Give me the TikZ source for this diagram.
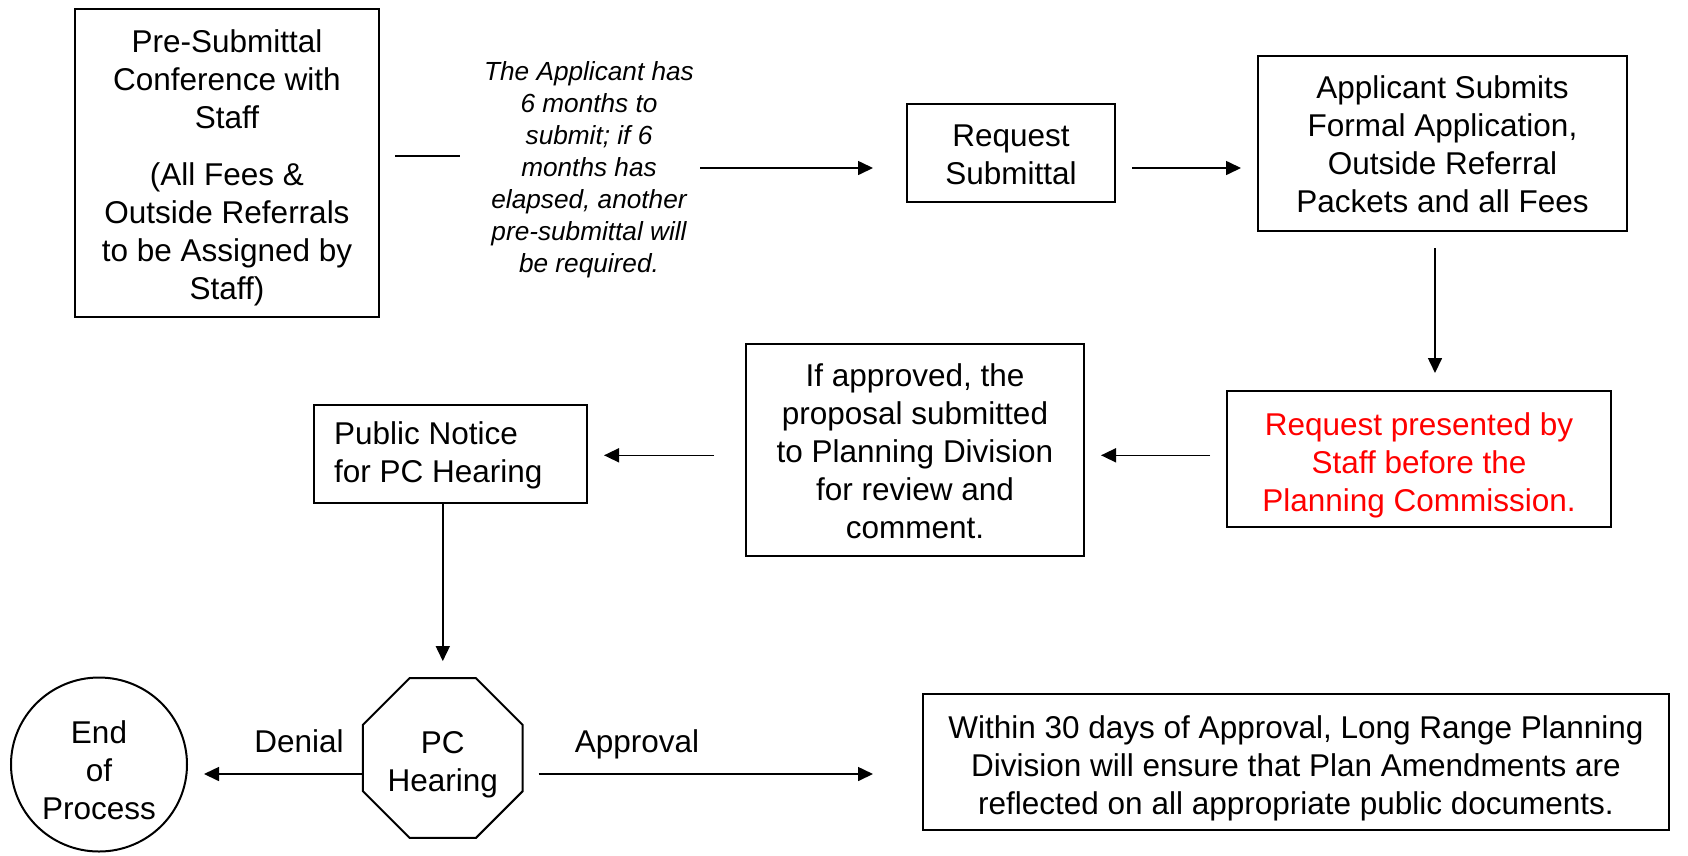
\documentclass[tikz,border=0pt]{standalone}
\usepackage{fontspec}
\setmainfont{Liberation Sans}
\usetikzlibrary{arrows.meta,shapes.geometric}
\newcommand\mainsz{\fontsize{31.5}{38}\selectfont}
\newcommand\notesz{\fontsize{26.2}{32}\selectfont\itshape}
\begin{document}
\begin{tikzpicture}[x=1pt,y=-1pt,
  box/.style={draw, line width=2pt, inner sep=0pt},
  txt/.style={inner sep=0pt, align=center, font=\mainsz},
  conn/.style={line width=1.6pt},
  arr/.style={line width=1.6pt, -{Triangle[length=15pt,width=14pt]}}]
\useasboundingbox (0,0) rectangle (1688,855);
% shapes
\node[box, minimum width=304pt, minimum height=308pt] (pre) at (227,162.5) {};
\node[box, minimum width=208pt, minimum height=98pt] (rs) at (1011,153) {};
\node[box, minimum width=369pt, minimum height=175pt] (app) at (1442.5,143.5) {};
\node[box, minimum width=384pt, minimum height=136pt] (pres) at (1419,459) {};
\node[box, minimum width=338pt, minimum height=212pt] (ifa) at (915,450) {};
\node[box, minimum width=273pt, minimum height=98pt] (pn) at (450.5,454) {};
\node[box, regular polygon, regular polygon sides=8, minimum size=173pt] (pc) at (442.8,758) {};
\node[box, ellipse, minimum width=176pt, minimum height=174pt] (end) at (99,764.5) {};
\node[box, minimum width=746pt, minimum height=136pt] (fin) at (1296,762) {};
% texts
\node[txt] (pret) at ([yshift=-5.4pt]pre.center)
  {Pre-Submittal\\Conference with\\Staff\\[19pt](All Fees \&\\Outside Referrals\\to be Assigned by\\Staff)};
\node[align=center, font=\notesz, inner sep=0pt] (note) at (589,170)
  {The Applicant has\\6 months to\\submit; if 6\\months has\\elapsed, another\\pre-submittal will\\be required.};
\node[txt] (rst) at ([yshift=-2pt]rs.center) {Request\\Submittal};
\node[txt] (appt) at ([yshift=-1pt]app.center)
  {Applicant Submits\\Formal Application,\\Outside Referral\\Packets and all Fees};
\node[txt, text=red] (prest) at ([yshift=-6pt]pres.center)
  {Request presented by\\Staff before the\\Planning Commission.};
\node[txt] (ifat) at ([yshift=-1pt]ifa.center)
  {If approved, the\\proposal submitted\\to Planning Division\\for review and\\comment.};
\node[txt, align=left, anchor=west] (pnt) at ([xshift=21pt,yshift=-1pt]pn.west)
  {Public Notice\\for PC Hearing};
\node[txt] (pct) at ([yshift=-6.5pt]pc.center) {PC\\Hearing};
\node[txt] (endt) at ([yshift=-5.4pt]end.center) {End\\of\\Process};
\node[txt] (fint) at ([yshift=-6.5pt]fin.center)
  {Within 30 days of Approval, Long Range Planning\\Division will ensure that Plan Amendments are\\reflected on all appropriate public documents.};
% labels
\node[font=\mainsz, inner sep=0pt, anchor=base] (den) at (299,752) {Denial};
\node[font=\mainsz, inner sep=0pt, anchor=base] (apl) at (637,752) {Approval};
% connectors
\coordinate (c1) at (460,156);
\draw[conn, shorten <=15pt] (pre.east |- c1) -- (c1);
\coordinate (n1) at (700,168);
\draw[arr, shorten >=33pt] (n1) -- (rs.west |- n1);
\coordinate (y1) at (0,168);
\draw[arr, shorten <=16pt, shorten >=16pt] (rs.east |- y1) -- (app.west |- y1);
\coordinate (x1) at (1435,0);
\draw[arr, shorten <=16pt, shorten >=17pt] (app.south -| x1) -- (pres.north -| x1);
\coordinate (y2) at (0,455.3);
\draw[arr, shorten <=16pt, shorten >=16pt] (pres.west |- y2) -- (ifa.east |- y2);
\draw[arr, shorten <=31pt, shorten >=16pt] (ifa.west |- y2) -- (pn.east |- y2);
\draw[arr, shorten >=16pt] (pn.south -| pc.north) -- (pc.north);
\coordinate (y3) at (0,774);
\draw[arr, shorten >=16pt] (pc.west |- y3) -- (end.east |- y3);
\draw[arr, shorten <=15pt, shorten >=49pt] (pc.east |- y3) -- (fin.west |- y3);
\end{tikzpicture}
\end{document}
